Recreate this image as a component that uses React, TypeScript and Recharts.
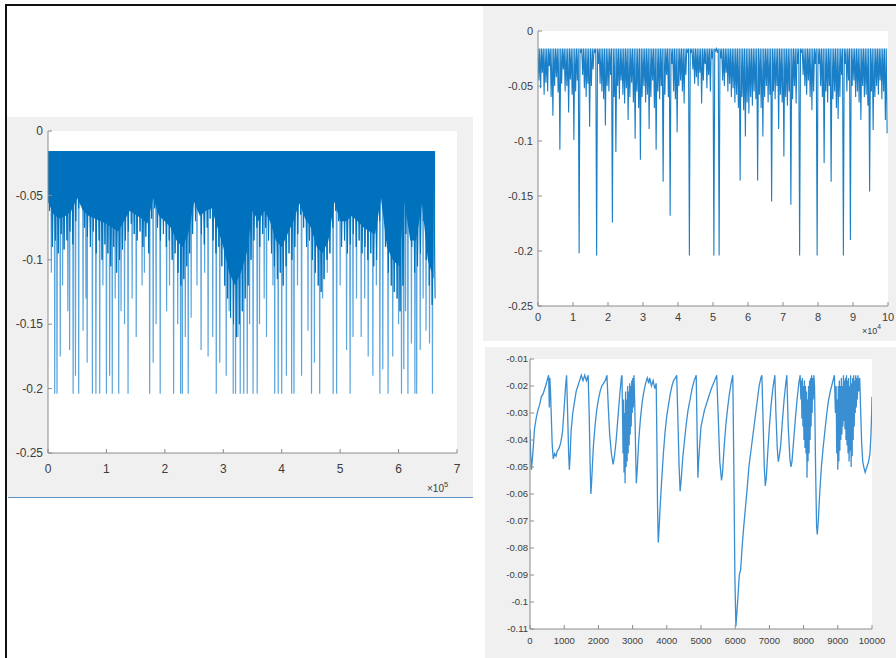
import { ComposedChart, LineChart, Line, Area, XAxis, YAxis, CartesianGrid } from 'recharts'

// signal is clipped at this level in every view
const CLIP = -0.016

// ---- full record (x axis ×10^5) ----
const coreStep = 10000
// lower edge of the solid part of the band, one value every 1e4 samples
const fullCore = [
  -0.055, -0.065, -0.068, -0.066, -0.062, -0.052, -0.062, -0.066, -0.068, -0.07,
  -0.072, -0.075, -0.078, -0.07, -0.062, -0.065, -0.068, -0.072, -0.052, -0.066,
  -0.07, -0.075, -0.085, -0.09, -0.08, -0.055, -0.066, -0.062, -0.06, -0.075,
  -0.09, -0.11, -0.12, -0.11, -0.095, -0.062, -0.07, -0.062, -0.07, -0.085,
  -0.09, -0.08, -0.07, -0.056, -0.068, -0.075, -0.09, -0.095, -0.085, -0.055,
  -0.07, -0.07, -0.066, -0.07, -0.075, -0.078, -0.08, -0.052, -0.09, -0.1,
  -0.105, -0.055, -0.085, -0.085, -0.056, -0.1, -0.115,
]
// ragged fringe under the band, one dip every 5000 samples
const fringeStep = 5000
const fullFringe = [
  -0.062, -0.09, -0.085, -0.095, -0.08, -0.092, -0.085, -0.078, -0.088, -0.07,
  -0.06, -0.058, -0.075, -0.082, -0.09, -0.078, -0.095, -0.085, -0.1, -0.088,
  -0.095, -0.105, -0.09, -0.11, -0.1, -0.092, -0.085, -0.078, -0.072, -0.08,
  -0.085, -0.078, -0.09, -0.082, -0.095, -0.068, -0.06, -0.075, -0.085, -0.08,
  -0.09, -0.085, -0.1, -0.095, -0.11, -0.12, -0.115, -0.105, -0.095, -0.08,
  -0.07, -0.062, -0.08, -0.088, -0.075, -0.068, -0.085, -0.095, -0.09, -0.105,
  -0.12, -0.13, -0.145, -0.15, -0.16, -0.15, -0.14, -0.13, -0.12, -0.1,
  -0.085, -0.075, -0.09, -0.08, -0.075, -0.085, -0.095, -0.105, -0.115, -0.11,
  -0.12, -0.105, -0.095, -0.1, -0.09, -0.08, -0.065, -0.075, -0.09, -0.085,
  -0.1, -0.11, -0.12, -0.125, -0.115, -0.1, -0.095, -0.075, -0.062, -0.07,
  -0.09, -0.085, -0.095, -0.088, -0.08, -0.09, -0.085, -0.095, -0.09, -0.1,
  -0.095, -0.105, -0.1, -0.07, -0.06, -0.09, -0.11, -0.12, -0.125, -0.13,
  -0.14, -0.12, -0.08, -0.065, -0.09, -0.11, -0.105, -0.095, -0.07, -0.1,
  -0.12, -0.135, -0.13,
]
// single drops well below the band: [sample, level]
const fullSpikes = [
  [5700, -0.11], [11500, -0.204], [15400, -0.204], [21000, -0.175], [25000, -0.12],
  [34000, -0.14], [37000, -0.17], [43000, -0.204], [47000, -0.19], [52500, -0.204],
  [60000, -0.155], [65000, -0.13], [67000, -0.18], [76000, -0.204], [82000, -0.204],
  [88500, -0.204], [94000, -0.12], [100000, -0.204], [105500, -0.19], [110000, -0.204],
  [115000, -0.13], [121000, -0.204], [125000, -0.14], [131000, -0.15], [137000, -0.204],
  [144000, -0.13], [151000, -0.16], [161000, -0.12], [165000, -0.11], [174000, -0.204],
  [180000, -0.18], [185000, -0.15], [192000, -0.204], [203000, -0.14], [208000, -0.12],
  [215000, -0.204], [222000, -0.15], [227000, -0.204], [230000, -0.204], [235000, -0.16],
  [240000, -0.204], [245000, -0.145], [255000, -0.12], [262000, -0.17], [268000, -0.11],
  [274000, -0.175], [282000, -0.16], [288000, -0.204], [294000, -0.18], [305000, -0.19],
  [310000, -0.14], [317000, -0.204], [321000, -0.204], [325000, -0.16], [329000, -0.204],
  [335000, -0.204], [341000, -0.204], [345000, -0.15], [351000, -0.204], [358000, -0.204],
  [362000, -0.15], [370000, -0.13], [374000, -0.16], [385000, -0.12], [388000, -0.204],
  [394000, -0.204], [400000, -0.204], [408000, -0.19], [417000, -0.204], [421000, -0.204],
  [427000, -0.12], [434000, -0.19], [445000, -0.155], [451000, -0.204], [456000, -0.18],
  [465000, -0.204], [470000, -0.13], [478000, -0.11], [488000, -0.204], [494000, -0.204],
  [500000, -0.12], [511000, -0.17], [517000, -0.204], [522000, -0.16], [528000, -0.13],
  [536000, -0.16], [542000, -0.13], [548000, -0.175], [556000, -0.19], [562000, -0.12],
  [568000, -0.204], [573000, -0.185], [582000, -0.204], [590000, -0.175], [600000, -0.15],
  [605000, -0.204], [609000, -0.185], [612000, -0.14], [616000, -0.204], [622000, -0.165],
  [628000, -0.204], [631000, -0.204], [637000, -0.17], [642000, -0.13], [647000, -0.155],
  [653000, -0.165], [658000, -0.204],
]
const fullXTicks = [0, 100000, 200000, 300000, 400000, 500000, 600000, 700000]
const levelTicks = [-0.25, -0.2, -0.15, -0.1, -0.05, 0]

// ---- first 1e5 samples (x axis ×10^4), one dip every 500 samples ----
const zoomStep = 500
const zoomDips = [
  -0.045, -0.052, -0.038, -0.058, -0.047, -0.055, -0.032, -0.06, -0.077, -0.05, -0.042, -0.056, -0.108, -0.048, -0.035, -0.055, -0.05, -0.074, -0.044, -0.058,
  -0.099, -0.055, -0.045, -0.202, -0.02, -0.04, -0.052, -0.06, -0.048, -0.087, -0.05, -0.035, -0.02, -0.204, -0.03, -0.048, -0.055, -0.062, -0.086, -0.05,
  -0.055, -0.04, -0.174, -0.06, -0.11, -0.05, -0.062, -0.045, -0.058, -0.066, -0.052, -0.081, -0.06, -0.047, -0.065, -0.098, -0.055, -0.07, -0.117, -0.06,
  -0.05, -0.065, -0.058, -0.089, -0.06, -0.045, -0.07, -0.108, -0.055, -0.062, -0.05, -0.137, -0.058, -0.04, -0.06, -0.168, -0.03, -0.055, -0.062, -0.092,
  -0.05, -0.045, -0.055, -0.066, -0.04, -0.02, -0.204, -0.02, -0.035, -0.048, -0.042, -0.05, -0.038, -0.066, -0.045, -0.03, -0.052, -0.04, -0.055, -0.025,
  -0.204, -0.018, -0.02, -0.204, -0.025, -0.045, -0.05, -0.038, -0.055, -0.048, -0.06, -0.052, -0.065, -0.058, -0.07, -0.136, -0.06, -0.072, -0.096, -0.065,
  -0.075, -0.06, -0.068, -0.055, -0.062, -0.136, -0.058, -0.07, -0.096, -0.06, -0.05, -0.065, -0.058, -0.155, -0.055, -0.062, -0.05, -0.089, -0.058, -0.065,
  -0.114, -0.06, -0.068, -0.055, -0.158, -0.062, -0.05, -0.066, -0.03, -0.204, -0.02, -0.04, -0.05, -0.058, -0.045, -0.06, -0.072, -0.055, -0.03, -0.204,
  -0.03, -0.05, -0.06, -0.12, -0.055, -0.065, -0.05, -0.137, -0.062, -0.055, -0.07, -0.08, -0.06, -0.04, -0.204, -0.03, -0.055, -0.045, -0.19, -0.05,
  -0.045, -0.06, -0.055, -0.065, -0.081, -0.05, -0.06, -0.058, -0.068, -0.146, -0.055, -0.09, -0.06, -0.05, -0.058, -0.045, -0.062, -0.055, -0.081, -0.093,
]
const zoomXTicks = [0, 10000, 20000, 30000, 40000, 50000, 60000, 70000, 80000, 90000, 100000]

// ---- first 1e4 samples: [sample, level] ----
const detailTrace = [
  [0, -0.036], [20, -0.045], [40, -0.051], [70, -0.047], [100, -0.042], [130, -0.036], [180, -0.032], [230, -0.029],
  [280, -0.027], [330, -0.024], [380, -0.023], [430, -0.021], [480, -0.019], [520, -0.017], [545, -0.016], [565, -0.028],
  [580, -0.017], [600, -0.022], [625, -0.032], [650, -0.042], [680, -0.047], [720, -0.045], [760, -0.046], [800, -0.044],
  [850, -0.043], [900, -0.041], [950, -0.037], [1000, -0.028], [1040, -0.02], [1070, -0.016], [1100, -0.03], [1130, -0.045],
  [1150, -0.051], [1170, -0.047], [1200, -0.037], [1250, -0.03], [1300, -0.026], [1350, -0.022], [1400, -0.02], [1450, -0.018],
  [1500, -0.016], [1550, -0.018], [1600, -0.016], [1650, -0.018], [1700, -0.016], [1730, -0.03], [1760, -0.05], [1780, -0.06],
  [1800, -0.056], [1850, -0.043], [1900, -0.035], [1950, -0.029], [2000, -0.025], [2050, -0.022], [2100, -0.02], [2150, -0.019],
  [2200, -0.018], [2250, -0.016], [2290, -0.028], [2330, -0.038], [2380, -0.045], [2430, -0.049], [2470, -0.046], [2520, -0.04],
  [2570, -0.032], [2620, -0.024], [2670, -0.017], [2690, -0.016], [2705, -0.03], [2720, -0.045], [2735, -0.025], [2750, -0.052],
  [2765, -0.03], [2780, -0.056], [2795, -0.022], [2810, -0.05], [2825, -0.025], [2840, -0.048], [2855, -0.02], [2870, -0.045],
  [2885, -0.022], [2900, -0.042], [2915, -0.019], [2930, -0.038], [2945, -0.02], [2960, -0.035], [2975, -0.018], [2990, -0.03],
  [3005, -0.017], [3020, -0.028], [3040, -0.016], [3060, -0.025], [3090, -0.045], [3110, -0.056], [3140, -0.05], [3180, -0.04],
  [3230, -0.032], [3280, -0.026], [3330, -0.022], [3380, -0.019], [3430, -0.017], [3470, -0.019], [3500, -0.017], [3550, -0.02],
  [3600, -0.018], [3650, -0.021], [3690, -0.019], [3710, -0.04], [3730, -0.065], [3750, -0.078], [3770, -0.074], [3800, -0.066],
  [3850, -0.055], [3900, -0.045], [3950, -0.037], [4000, -0.031], [4050, -0.027], [4100, -0.023], [4150, -0.02], [4200, -0.018],
  [4250, -0.017], [4290, -0.016], [4320, -0.03], [4360, -0.05], [4390, -0.059], [4420, -0.055], [4470, -0.046], [4520, -0.04],
  [4570, -0.034], [4620, -0.029], [4680, -0.025], [4740, -0.021], [4800, -0.018], [4860, -0.016], [4890, -0.04], [4910, -0.054],
  [4930, -0.048], [4960, -0.042], [5000, -0.035], [5100, -0.029], [5200, -0.025], [5300, -0.021], [5400, -0.018], [5460, -0.016],
  [5500, -0.03], [5550, -0.048], [5600, -0.055], [5630, -0.052], [5680, -0.042], [5730, -0.034], [5780, -0.028], [5830, -0.023],
  [5880, -0.019], [5930, -0.016], [5960, -0.05], [5990, -0.09], [6020, -0.109], [6050, -0.104], [6080, -0.098], [6120, -0.09],
  [6160, -0.088], [6200, -0.08], [6250, -0.072], [6300, -0.065], [6350, -0.058], [6400, -0.05], [6450, -0.045], [6500, -0.04],
  [6550, -0.035], [6600, -0.03], [6650, -0.025], [6700, -0.02], [6750, -0.017], [6780, -0.016], [6810, -0.03], [6850, -0.05],
  [6880, -0.057], [6910, -0.054], [6950, -0.045], [7000, -0.035], [7050, -0.027], [7100, -0.021], [7160, -0.016], [7190, -0.03],
  [7230, -0.043], [7260, -0.048], [7290, -0.046], [7330, -0.042], [7380, -0.033], [7430, -0.025], [7480, -0.019], [7510, -0.016],
  [7550, -0.035], [7600, -0.047], [7630, -0.05], [7660, -0.048], [7710, -0.04], [7760, -0.032], [7810, -0.025], [7860, -0.019],
  [7900, -0.016], [7920, -0.025], [7935, -0.018], [7950, -0.032], [7965, -0.017], [7980, -0.035], [7995, -0.02], [8010, -0.04],
  [8025, -0.018], [8040, -0.043], [8055, -0.02], [8070, -0.045], [8085, -0.022], [8100, -0.054], [8115, -0.025], [8130, -0.048],
  [8145, -0.02], [8160, -0.045], [8175, -0.018], [8190, -0.04], [8205, -0.017], [8220, -0.035], [8235, -0.016], [8250, -0.03],
  [8265, -0.017], [8280, -0.025], [8300, -0.016], [8320, -0.02], [8350, -0.05], [8380, -0.072], [8400, -0.075], [8430, -0.07],
  [8470, -0.06], [8520, -0.05], [8570, -0.043], [8620, -0.037], [8670, -0.031], [8720, -0.026], [8780, -0.022], [8840, -0.019],
  [8900, -0.016], [8930, -0.03], [8950, -0.02], [8970, -0.045], [8985, -0.025], [9000, -0.051], [9015, -0.02], [9030, -0.048],
  [9045, -0.018], [9060, -0.044], [9075, -0.02], [9090, -0.04], [9105, -0.017], [9120, -0.038], [9135, -0.02], [9150, -0.035],
  [9165, -0.016], [9180, -0.033], [9195, -0.018], [9210, -0.036], [9225, -0.017], [9240, -0.04], [9255, -0.016], [9270, -0.042],
  [9285, -0.018], [9300, -0.045], [9315, -0.017], [9330, -0.048], [9345, -0.02], [9360, -0.044], [9375, -0.016], [9390, -0.05],
  [9405, -0.019], [9420, -0.046], [9435, -0.017], [9450, -0.04], [9465, -0.016], [9480, -0.035], [9495, -0.018], [9510, -0.03],
  [9525, -0.016], [9540, -0.028], [9555, -0.017], [9570, -0.025], [9590, -0.016], [9610, -0.022], [9640, -0.017], [9670, -0.03],
  [9700, -0.042], [9730, -0.048], [9760, -0.05], [9800, -0.052], [9850, -0.05], [9900, -0.048], [9940, -0.045], [9970, -0.038],
  [9990, -0.03], [10000, -0.024],
]
const detailXTicks = [0, 1000, 2000, 3000, 4000, 5000, 6000, 7000, 8000, 9000, 10000]
const detailYTicks = [-0.11, -0.1, -0.09, -0.08, -0.07, -0.06, -0.05, -0.04, -0.03, -0.02, -0.01]

const BLUE = '#0072BD'
const LIGHT = '#5ca6de'
const AXIS = '#8c8c8c'
const INK = '#3c3c3c'
const PANEL = '#f0f0f0'
const FONT = '"Liberation Sans", Arial, Helvetica, sans-serif'

const fmtLevel = (v: number) => String(+v.toFixed(2))

// range rows [top, level] so the outline follows the dips and later areas paint over earlier ones
const fullRows = [
  ...fullCore.map((low, i) => ({ x: i * coreStep, core: [CLIP, low] })),
  ...fullFringe.flatMap((d, i) => [
    { x: i * fringeStep, fringe: [CLIP, CLIP] },
    { x: i * fringeStep + fringeStep / 2, fringe: [CLIP, d] },
  ]),
  ...fullSpikes.flatMap(([x, y]) => [
    { x: x - 700, spike: [CLIP, CLIP] },
    { x, spike: [CLIP, y] },
    { x: x + 700, spike: [CLIP, CLIP] },
  ]),
].sort((a, b) => a.x - b.x)

const zoomRows = zoomDips.flatMap((d, i) => [
  { x: i * zoomStep, y: CLIP },
  { x: i * zoomStep + zoomStep / 2, y: d },
])

const detailRows = detailTrace.map(([x, y]) => ({ x, y }))

type FrameOpts = {
  xTicks: number[]
  yTicks: number[]
  xFmt: (v: number) => string
  fontSize: number
  yWidth: number
  xHeight: number
  xGap: number
  yGap: number
}

// MATLAB-style box: labelled bottom/left axes, bare top/right axes, ticks pointing in
function boxAxes(o: FrameOpts) {
  const xDomain = [o.xTicks[0], o.xTicks[o.xTicks.length - 1]]
  const yDomain = [o.yTicks[0], o.yTicks[o.yTicks.length - 1]]
  const tick = { fill: INK, fontSize: o.fontSize, fontFamily: FONT }
  return [
    <XAxis key="xb" dataKey="x" type="number" domain={xDomain} ticks={o.xTicks} tickFormatter={o.xFmt}
      interval={0} allowDataOverflow height={o.xHeight} stroke={AXIS} tickSize={-4} tickMargin={o.xGap} tick={tick} />,
    <XAxis key="xt" xAxisId="top" orientation="top" dataKey="x" type="number" domain={xDomain} ticks={o.xTicks}
      interval={0} allowDataOverflow height={0} stroke={AXIS} tickSize={-4} tick={false} />,
    <YAxis key="yl" type="number" domain={yDomain} ticks={o.yTicks} tickFormatter={fmtLevel}
      interval={0} allowDataOverflow width={o.yWidth} stroke={AXIS} tickSize={-4} tickMargin={o.yGap} tick={tick} />,
    <YAxis key="yr" yAxisId="right" orientation="right" type="number" domain={yDomain} ticks={o.yTicks}
      interval={0} allowDataOverflow width={0} stroke={AXIS} tickSize={-4} tick={false} />,
  ]
}

const abs = (left: number, top: number, width: number, height: number, extra = {}) => ({
  position: 'absolute' as const, left, top, width, height, ...extra,
})

function Exponent({ left, top, size, power }: { left: number; top: number; size: number; power: string }) {
  return (
    <div style={{ position: 'absolute', left, top, fontFamily: FONT, fontSize: size, color: INK, lineHeight: 1, whiteSpace: 'nowrap' }}>
      ×10<sup style={{ fontSize: size * 0.75, verticalAlign: 'top', position: 'relative', top: -size * 0.35 }}>{power}</sup>
    </div>
  )
}

export default function App() {
  return (
    <div style={abs(0, 0, 896, 658, { background: '#fff', overflow: 'hidden' })}>
      {/* figure frame */}
      <div style={abs(5, 4, 900, 700, { borderTop: '2px solid #111', borderLeft: '2px solid #111', boxSizing: 'border-box' })} />

      {/* left: full record */}
      <div style={abs(7, 117, 466, 380, { background: PANEL })} />
      <div style={abs(8, 497, 465, 1, { background: '#5b90c6' })} />
      <div style={abs(8, 117, 465, 380)}>
        <ComposedChart width={465} height={380} data={fullRows} margin={{ top: 14, right: 16, bottom: 0, left: 0 }}>
          <CartesianGrid fill="#ffffff" stroke="none" />
          {boxAxes({
            xTicks: fullXTicks, yTicks: levelTicks, xFmt: (v) => String(v / 100000),
            fontSize: 12, yWidth: 40, xHeight: 44, xGap: 15, yGap: 9,
          })}
          <Area type="linear" dataKey="spike" stroke={LIGHT} strokeWidth={1.2} fill={LIGHT} fillOpacity={1}
            connectNulls dot={false} activeDot={false} isAnimationActive={false} />
          <Area type="linear" dataKey="fringe" stroke={BLUE} strokeWidth={1} fill={BLUE} fillOpacity={1}
            connectNulls dot={false} activeDot={false} isAnimationActive={false} />
          <Area type="linear" dataKey="core" stroke="none" fill={BLUE} fillOpacity={1}
            connectNulls dot={false} activeDot={false} isAnimationActive={false} />
        </ComposedChart>
      </div>
      <Exponent left={427} top={484} size={10} power="5" />

      {/* top right: first 1e5 samples */}
      <div style={abs(483, 6, 413, 335, { background: PANEL })} />
      <div style={abs(483, 6, 413, 335)}>
        <LineChart width={413} height={335} data={zoomRows} margin={{ top: 25, right: 8, bottom: 0, left: 0 }}>
          <CartesianGrid fill="#ffffff" stroke="none" />
          {boxAxes({
            xTicks: zoomXTicks, yTicks: levelTicks, xFmt: (v) => String(v / 10000),
            fontSize: 11, yWidth: 55, xHeight: 35, xGap: 11, yGap: 9,
          })}
          <Line type="linear" dataKey="y" stroke="#1a7fc6" strokeWidth={1.1}
            dot={false} activeDot={false} isAnimationActive={false} />
        </LineChart>
      </div>
      <Exponent left={862} top={327} size={9} power="4" />

      {/* bottom right: first 1e4 samples */}
      <div style={abs(485, 347, 411, 311, { background: PANEL })} />
      <div style={abs(485, 347, 411, 311)}>
        <LineChart width={411} height={311} data={detailRows} margin={{ top: 12, right: 24, bottom: 0, left: 0 }}>
          <CartesianGrid fill="#ffffff" stroke="none" />
          {boxAxes({
            xTicks: detailXTicks, yTicks: detailYTicks, xFmt: (v) => String(v),
            fontSize: 9.5, yWidth: 45, xHeight: 29, xGap: 12, yGap: 6,
          })}
          <Line type="linear" dataKey="y" stroke="#3a8fd3" strokeWidth={1.3}
            dot={false} activeDot={false} isAnimationActive={false} />
        </LineChart>
      </div>
    </div>
  )
}
